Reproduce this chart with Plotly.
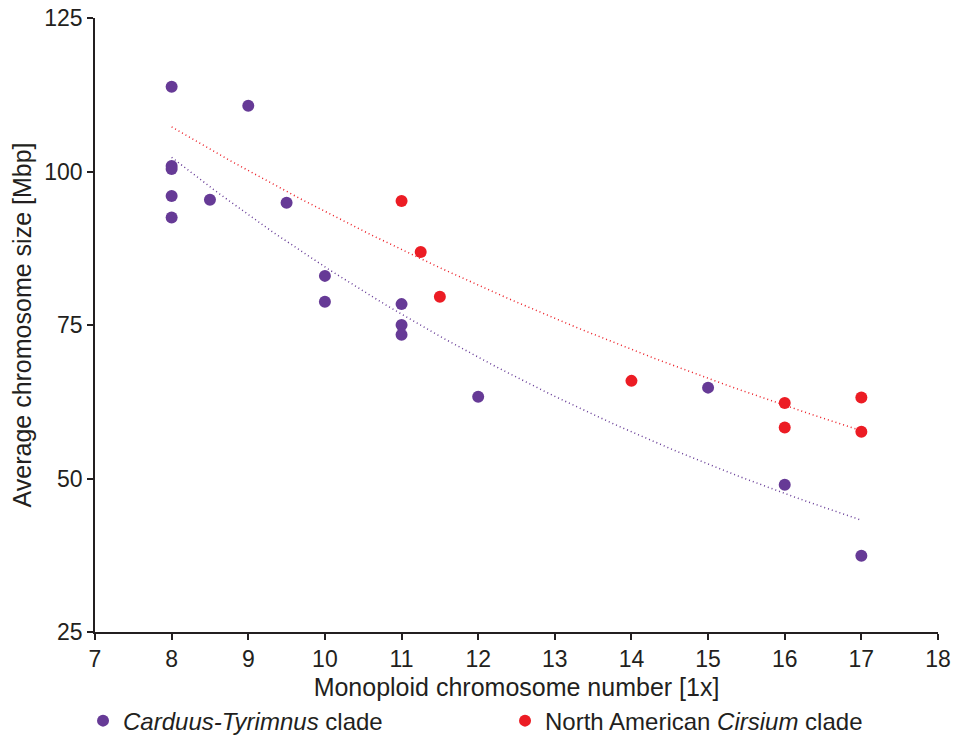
import numpy as np
import plotly.graph_objects as go

# Carduus-Tyrimnus clade
ct_x = [8, 8, 8, 8, 8, 9, 8.5, 9.5, 10, 10, 11, 11, 11, 12, 15, 16, 17]
ct_y = [113.8, 100.9, 100.4, 96.0, 92.5, 110.7, 95.4, 94.9, 83.0, 78.8, 78.4, 75.0, 73.4, 63.3, 64.8, 49.0, 37.4]

# North American Cirsium clade
na_x = [11, 11.25, 11.5, 14, 16, 16, 17, 17]
na_y = [95.2, 86.9, 79.6, 65.9, 62.3, 58.3, 63.2, 57.6]

trend_x = [8, 17]

PURPLE = "#663a96"
RED = "#ec1c24"
INK = "#231f20"
FONT = "Liberation Sans, Arial, sans-serif"


def exp_fit(xs, ys, xr):
    b, ln_a = np.polyfit(np.asarray(xs, float), np.log(ys), 1)
    xx = np.linspace(xr[0], xr[1], 100)
    return xx, np.exp(ln_a + b * xx)


fig = go.Figure()

tx, ty = exp_fit(ct_x, ct_y, trend_x)
fig.add_trace(go.Scatter(x=tx, y=ty, mode="lines", showlegend=False, hoverinfo="skip",
                         line=dict(color=PURPLE, width=1.5, dash="1px,3px")))
tx, ty = exp_fit(na_x, na_y, trend_x)
fig.add_trace(go.Scatter(x=tx, y=ty, mode="lines", showlegend=False, hoverinfo="skip",
                         line=dict(color=RED, width=1.5, dash="1px,3px")))

fig.add_trace(go.Scatter(x=ct_x, y=ct_y, mode="markers", name="<i>Carduus-Tyrimnus</i> clade",
                         marker=dict(color=PURPLE, size=12)))
fig.add_trace(go.Scatter(x=na_x, y=na_y, mode="markers", name="North American <i>Cirsium</i> clade",
                         marker=dict(color=RED, size=12)))

axis_common = dict(showgrid=False, zeroline=False, showline=True, linecolor=INK, linewidth=1.5,
                   ticks="outside", ticklen=6, tickwidth=1.5, tickcolor=INK, automargin=False,
                   ticklabeloverflow="allow",
                   tickfont=dict(family=FONT, size=23, color=INK),
                   title_font=dict(family=FONT, size=25, color=INK))

fig.update_xaxes(range=[7, 18], tickmode="array", tickvals=list(range(7, 19)),
                 title_text="Monoploid chromosome number [1x]", title_standoff=7, **axis_common)
fig.update_yaxes(range=[25, 125], tickmode="array", tickvals=[25, 50, 75, 100, 125],
                 title_text="Average chromosome size [Mbp]", title_standoff=8, **axis_common)

fig.update_layout(
    width=945, height=730,
    margin=dict(l=87, r=15, t=10, b=106, autoexpand=False),
    plot_bgcolor="white", paper_bgcolor="white",
    font=dict(family=FONT, size=24, color=INK),
    legend=dict(orientation="h", x=-0.0142, xanchor="left", y=-0.145, yanchor="middle",
                entrywidth=377, entrywidthmode="pixels",
                font=dict(family=FONT, size=24, color=INK)),
)

fig.write_html("out.html")
